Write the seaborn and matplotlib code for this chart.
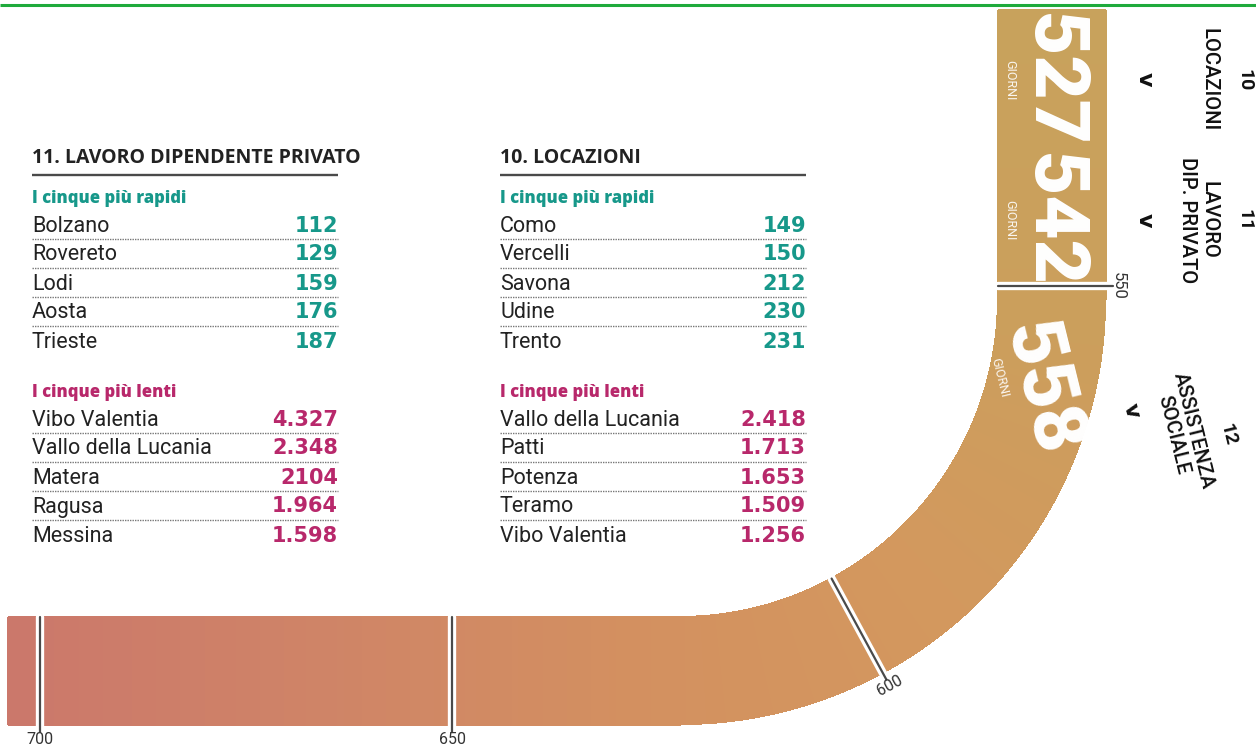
import numpy as np
import pandas as pd
import matplotlib
matplotlib.use("Agg")
import matplotlib.pyplot as plt
from matplotlib.collections import PolyCollection
import seaborn as sns

# ---- data ----
categorie = ["10", "11", "12"]
nomi_categorie = ["LOCAZIONI", "LAVORO\nDIP. PRIVATO", "ASSISTENZA\nSOCIALE"]
giorni_medi = [527, 542, 558]
tacche = [550, 600, 650, 700]

lavoro_rapidi = ["Bolzano", "Rovereto", "Lodi", "Aosta", "Trieste"]
lavoro_rapidi_gg = ["112", "129", "159", "176", "187"]
lavoro_lenti = ["Vibo Valentia", "Vallo della Lucania", "Matera", "Ragusa", "Messina"]
lavoro_lenti_gg = ["4.327", "2.348", "2104", "1.964", "1.598"]

locazioni_rapidi = ["Como", "Vercelli", "Savona", "Udine", "Trento"]
locazioni_rapidi_gg = ["149", "150", "212", "230", "231"]
locazioni_lenti = ["Vallo della Lucania", "Patti", "Potenza", "Teramo", "Vibo Valentia"]
locazioni_lenti_gg = ["2.418", "1.713", "1.653", "1.509", "1.256"]

# ---- layout (pixel space) ----
W, H = 1256, 747
CX, CY, R = 680, 299, 371.5      # centre of the bend and radius of the band's centre line
HALF = 53.5                      # half width of the band
LQ = R * np.pi / 2               # length of the quarter bend
PX_DAY = 8.243                   # pixels per day along the band
S550 = -13.2                     # path position of 550 days
BAND_FROM, BAND_TO = 516.5, 703.9  # days covered by the drawn band
label_at = [525, 542, 562.5]     # where along the band the category labels sit

TEAL = "#17988a"
MAGENTA = "#b8286b"
INK = "#222222"


def s_of(d):
    return S550 + (d - 550) * PX_DAY


def pos(s, off=0.0):
    # point on the band path at length s, shifted outward by off
    if s < 0:
        th, x0, y0 = 0.0, CX, CY + s
    elif s <= LQ:
        th, x0, y0 = s / R, CX, CY
    else:
        th, x0, y0 = np.pi / 2, CX - (s - LQ), CY
    r = R + off
    return x0 + r * np.cos(th), y0 + r * np.sin(th), np.degrees(th)


sns.set_theme(style="white")
fig = plt.figure(figsize=(W / 100, H / 100), dpi=100)
ax = fig.add_axes([0, 0, 1, 1])

# top rule of the page
ax.plot([0, W], [5, 5], color="#1faa3c", lw=2.2, solid_capstyle="butt")

# ---- band with gradient ----
s_all = np.union1d(np.linspace(s_of(BAND_FROM), s_of(BAND_TO), 700), [0, LQ])
pal = sns.blend_palette(["#c8a25c", "#cb9f5c", "#d3985e", "#d39060", "#cf8467", "#cb786b"],
                        n_colors=len(s_all) - 1)
polys = []
for a, b in zip(s_all[:-1], s_all[1:]):
    p1 = pos(a, -HALF)[:2]
    p2 = pos(a, HALF)[:2]
    p3 = pos(b, HALF)[:2]
    p4 = pos(b, -HALF)[:2]
    polys.append([p1, p2, p3, p4])
ax.add_collection(PolyCollection(polys, facecolors=pal, edgecolors=pal, linewidths=0.8,
                                 antialiaseds=False, zorder=1))

# ---- ticks on the band ----
rows = []
for d in tacche:
    for off in (-HALF, HALF + 8):
        x, y, _ = pos(s_of(d), off)
        rows.append({"tacca": d, "x": x, "y": y})
df_t = pd.DataFrame(rows)
sns.lineplot(data=df_t, x="x", y="y", units="tacca", estimator=None, sort=False,
             color="white", lw=6, ax=ax, legend=False, zorder=2)
sns.lineplot(data=df_t, x="x", y="y", units="tacca", estimator=None, sort=False,
             color="#4a4a4a", lw=1.6, ax=ax, legend=False, zorder=3)

for d in tacche:
    s = s_of(d)
    if s < 0:
        x, y, th = pos(s, HALF + 6)
        ax.text(x, y, str(d), rotation=-90, rotation_mode="anchor", ha="center", va="bottom",
                fontsize=12, family="Roboto", color="#333333", zorder=4)
    else:
        x, y, th = pos(s, HALF + 19.5)
        ax.text(x, y, str(d), rotation=90 - th, rotation_mode="anchor", ha="center",
                va="baseline", fontsize=11.5, family="Roboto", color="#333333", zorder=4)

# ---- values on the band and category labels ----
for cat, nome, g, d in zip(categorie, nomi_categorie, giorni_medi, label_at):
    s = s_of(d)
    x, y, th = pos(s, 2)
    ax.text(x, y, str(g), rotation=th - 90, rotation_mode="anchor", ha="center", va="center",
            fontsize=55, family="Roboto", fontweight="black", color="white", zorder=5)
    x, y, th = pos(s, -42)
    ax.text(x, y, "GIORNI", rotation=th - 90, rotation_mode="anchor", ha="center", va="center",
            fontsize=9, family="Roboto", color="white", alpha=0.9, zorder=5)
    x, y, th = pos(s, 93)
    ax.text(x, y, "v", rotation=th - 90, rotation_mode="anchor", ha="center", va="center",
            fontsize=16, family="DejaVu Sans", fontweight="heavy", color="#111111")
    x, y, th = pos(s, 167)
    ax.text(x, y, nome, rotation=th - 90, rotation_mode="anchor", ha="center", va="top",
            multialignment="center", linespacing=1.15,
            fontsize=14.5, family="Roboto", fontweight="medium", color="#111111")
    x, y, th = pos(s, 193)
    ax.text(x, y, cat, rotation=th - 90, rotation_mode="anchor", ha="center", va="center",
            fontsize=14, family="Roboto", fontweight="bold", color="#111111")


# ---- tables ----
def tabella(x0, x1, titolo, rapidi, rapidi_gg, lenti, lenti_gg):
    ax.text(x0, 163, titolo, ha="left", va="baseline", fontsize=14, family="Open Sans",
            fontweight="bold", color=INK)
    ax.plot([x0, x1], [175, 175], color="#4a4a4a", lw=1.7, solid_capstyle="butt")
    blocchi = [(203, "I cinque più rapidi", TEAL, rapidi, rapidi_gg),
               (397, "I cinque più lenti", MAGENTA, lenti, lenti_gg)]
    for y_sub, sub, col, nomi, gg in blocchi:
        ax.text(x0, y_sub, sub, ha="left", va="baseline", fontsize=12, family="Open Sans",
                fontweight="heavy", color=col)
        for i, (n, v) in enumerate(zip(nomi, gg)):
            yb = y_sub + 28.5 + i * 29
            ax.text(x0, yb, n, ha="left", va="baseline", fontsize=15.5, family="Roboto", color=INK)
            ax.text(x1, yb, v, ha="right", va="baseline", fontsize=15, family="DejaVu Sans",
                    fontweight="bold", color=col)
            if i < len(nomi) - 1:
                ax.plot([x0, x1], [yb + 7, yb + 7], color="#777777", lw=1.0,
                        linestyle=(0, (1, 0.8)))


tabella(32, 338, "11. LAVORO DIPENDENTE PRIVATO", lavoro_rapidi, lavoro_rapidi_gg,
        lavoro_lenti, lavoro_lenti_gg)
tabella(500, 806, "10. LOCAZIONI", locazioni_rapidi, locazioni_rapidi_gg,
        locazioni_lenti, locazioni_lenti_gg)

ax.set_xlim(0, W)
ax.set_ylim(H, 0)
ax.set_aspect("auto")
ax.axis("off")
fig.savefig("out.png", dpi=100, facecolor="white")
